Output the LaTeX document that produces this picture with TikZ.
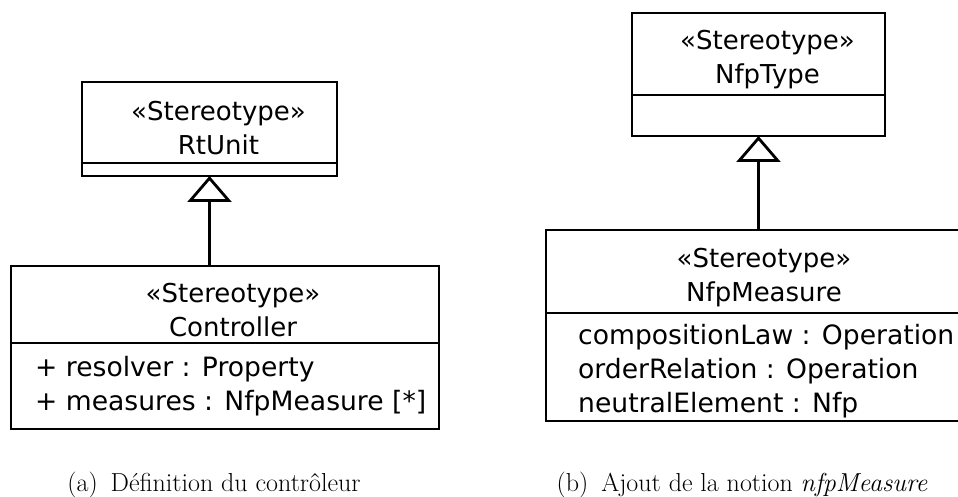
\documentclass[tikz,border=0pt]{standalone}
\usepackage{fontspec}
\usepackage{tikz}
\usetikzlibrary{positioning, arrows.meta}
\newfontfamily\umlfont{DejaVu Sans}

\begin{document}
\begin{tikzpicture}[
      x=1pt, y=-1pt,
      umlbox/.style={draw, line width=2.6pt, inner sep=0pt, outer sep=0pt},
      umltitle/.style={font=\umlfont\fontsize{26}{34}\selectfont, align=center, inner sep=0pt},
      umlattrs/.style={font=\umlfont\fontsize{26.6}{34}\selectfont, align=left, inner sep=0pt, anchor=west},
      generalization/.style={line width=2.8pt, -{Triangle[open, length=26pt, width=44pt]}},
      subcaption/.style={font=\fontsize{26}{30}\selectfont, anchor=base, inner sep=0pt}
    ]
      \path[use as bounding box, clip] (0,0) rectangle (958,497);

      % (a) controller
      \node[umlbox, anchor=north west, minimum width=255pt, minimum height=81pt] (rtunit) at (82,82) {};
      \node[umlbox, below=0pt of rtunit, minimum width=255pt, minimum height=13pt] (rtunit-attr) {};
      \node[umltitle] (rtunit-name) at ([xshift=9pt, yshift=-6pt]rtunit.center) {«Stereotype»\\RtUnit};

      \node[umlbox, anchor=north west, minimum width=428pt, minimum height=77pt] (controller) at (11,266) {};
      \node[umlbox, below=0pt of controller, minimum width=428pt, minimum height=86pt] (controller-attr) {};
      \node[umltitle] (controller-name) at ([xshift=8pt, yshift=-6pt]controller.center) {«Stereotype»\\Controller};
      \node[umlattrs] (controller-attrs) at ([xshift=24pt]controller-attr.west) {+ resolver : Property\\+ measures : NfpMeasure [*]};

      \draw[generalization] (rtunit-attr.south |- controller.north) -- (rtunit-attr.south);

      % (b) nfpMeasure
      \node[umlbox, anchor=north west, minimum width=253pt, minimum height=82pt] (nfptype) at (632,13) {};
      \node[umlbox, below=0pt of nfptype, minimum width=253pt, minimum height=41pt] (nfptype-attr) {};
      \node[umltitle] (nfptype-name) at ([xshift=9pt, yshift=-6pt]nfptype.center) {«Stereotype»\\NfpType};

      \node[umlbox, anchor=north west, minimum width=418pt, minimum height=83pt] (nfpmeasure) at (546,230) {};
      \node[umlbox, below=0pt of nfpmeasure, minimum width=418pt, minimum height=108pt] (nfpmeasure-attr) {};
      \node[umltitle] (nfpmeasure-name) at ([xshift=9pt, yshift=-6pt]nfpmeasure.center) {«Stereotype»\\NfpMeasure};
      \node[umlattrs] (nfpmeasure-attrs) at ([xshift=32pt, yshift=-4pt]nfpmeasure-attr.west) {compositionLaw : Operation\\orderRelation : Operation\\neutralElement : Nfp};

      \draw[generalization] (nfptype-attr.south |- nfpmeasure.north) -- (nfptype-attr.south);

      \node[subcaption] (caption-a) at (214,491) {(a)\enspace Définition du contrôleur};
      \node[subcaption] (caption-b) at (742,491) {(b)\enspace Ajout de la notion \emph{nfpMeasure}};
  \end{tikzpicture}
\end{document}
